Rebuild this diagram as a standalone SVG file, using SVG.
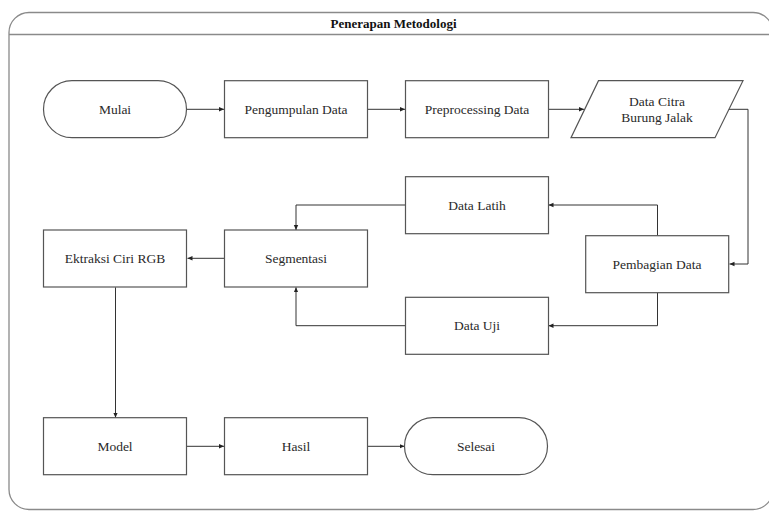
<svg xmlns="http://www.w3.org/2000/svg" width="769" height="511" viewBox="0 0 769 511">
<defs>
<marker id="ah" markerWidth="6" markerHeight="6" refX="5" refY="3" orient="auto" markerUnits="userSpaceOnUse">
<path d="M0,0.8 L5,3 L0,5.2 Z" fill="#222"/>
</marker>
<style>
.frame{fill:none;stroke:#8a8a8a;stroke-width:1.3}
.box{fill:#fff;stroke:#555;stroke-width:1.2}
.t{font-family:'Liberation Serif',serif;font-size:13.5px;fill:#2a2a2a;text-anchor:middle}
.title{font-family:'Liberation Serif',serif;font-size:13px;font-weight:bold;fill:#111;text-anchor:middle}
.c{fill:none;stroke:#333;stroke-width:1}
</style>
</defs>
<rect width="769" height="511" fill="#fff"/>
<g id="frame">
<rect class="frame" x="9" y="12.5" width="764" height="497" rx="20" ry="20"/>
<line class="frame" x1="9" y1="34.5" x2="769" y2="34.5"/>
<text class="title" x="393.5" y="28">Penerapan Metodologi</text>
</g>
<g id="connectors">
<line class="c" x1="187" y1="109.3" x2="224" y2="109.3" marker-end="url(#ah)"/>
<line class="c" x1="368" y1="109.3" x2="405" y2="109.3" marker-end="url(#ah)"/>
<line class="c" x1="548" y1="109.3" x2="584" y2="109.3" marker-end="url(#ah)"/>
<polyline class="c" points="728,109.3 748,109.3 748,264 729.5,264" marker-end="url(#ah)"/>
<polyline class="c" points="657.5,235.7 657.5,205 548.5,205" marker-end="url(#ah)"/>
<polyline class="c" points="657.5,292.7 657.5,325.7 548.5,325.7" marker-end="url(#ah)"/>
<polyline class="c" points="405,205 296,205 296,230" marker-end="url(#ah)"/>
<polyline class="c" points="405,325.7 296,325.7 296,287.3" marker-end="url(#ah)"/>
<line class="c" x1="224" y1="258.3" x2="187.5" y2="258.3" marker-end="url(#ah)"/>
<line class="c" x1="115.5" y1="287.3" x2="115.5" y2="417.7" marker-end="url(#ah)"/>
<line class="c" x1="187" y1="446.3" x2="224" y2="446.3" marker-end="url(#ah)"/>
<line class="c" x1="368" y1="446.3" x2="404.5" y2="446.3" marker-end="url(#ah)"/>
</g>
<g id="mulai">
<rect class="box" x="43.5" y="80.7" width="143" height="57" rx="28.5" ry="28.5"/>
<text class="t" x="115" y="113.5">Mulai</text>
</g>
<g id="pengumpulan">
<rect class="box" x="224.5" y="80.7" width="143" height="57"/>
<text class="t" x="296" y="113.5">Pengumpulan Data</text>
</g>
<g id="preprocessing">
<rect class="box" x="405.5" y="80.7" width="143" height="57"/>
<text class="t" x="477" y="113.5">Preprocessing Data</text>
</g>
<g id="datacitra">
<polygon class="box" points="598.5,80.7 743,80.7 715,137.7 571,137.7"/>
<text class="t" x="657" y="105.5">Data Citra</text>
<text class="t" x="657" y="122">Burung Jalak</text>
</g>
<g id="datalatih">
<rect class="box" x="405.5" y="176.7" width="143" height="57"/>
<text class="t" x="477" y="209.5">Data Latih</text>
</g>
<g id="pembagian">
<rect class="box" x="585.7" y="235.7" width="143" height="57"/>
<text class="t" x="657" y="268.5">Pembagian Data</text>
</g>
<g id="datauji">
<rect class="box" x="405.5" y="297.3" width="143" height="57"/>
<text class="t" x="477" y="330">Data Uji</text>
</g>
<g id="segmentasi">
<rect class="box" x="224.5" y="230" width="143" height="57"/>
<text class="t" x="296" y="262.5">Segmentasi</text>
</g>
<g id="ektraksi">
<rect class="box" x="43.5" y="230" width="143" height="57"/>
<text class="t" x="115" y="262.5">Ektraksi Ciri RGB</text>
</g>
<g id="model">
<rect class="box" x="43.5" y="417.7" width="143" height="57"/>
<text class="t" x="115" y="450.5">Model</text>
</g>
<g id="hasil">
<rect class="box" x="224.5" y="417.7" width="143" height="57"/>
<text class="t" x="296" y="450.5">Hasil</text>
</g>
<g id="selesai">
<rect class="box" x="404.5" y="417.7" width="143" height="57" rx="28.5" ry="28.5"/>
<text class="t" x="476" y="450.5">Selesai</text>
</g>
</svg>
